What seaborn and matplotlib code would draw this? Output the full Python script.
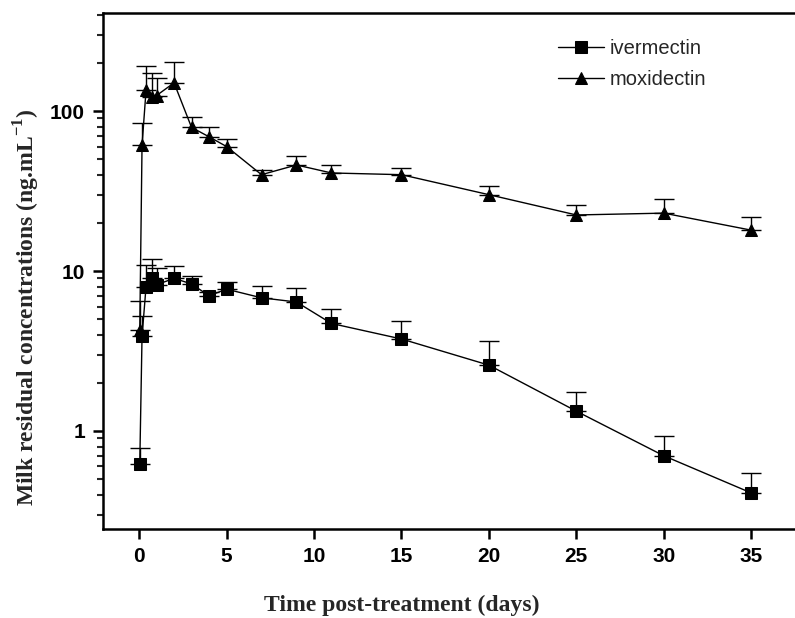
import numpy as np
import pandas as pd
import matplotlib
matplotlib.use("Agg")
import matplotlib.pyplot as plt
import seaborn as sns
from matplotlib.ticker import FixedLocator, LogLocator, NullFormatter, FuncFormatter

# sampling times (days)
days = [0.04, 0.17, 0.4, 0.75, 1, 2, 3, 4, 5, 7, 9, 11, 15, 20, 25, 30, 35]

# mean concentrations (ng/mL) and mean + SD (top of error bar)
ivermectin = [0.62, 3.9, 8.0, 9.0, 8.2, 9.0, 8.3, 7.0, 7.7, 6.8, 6.4, 4.7, 3.76, 2.58, 1.33, 0.70, 0.41]
ivermectin_hi = [0.78, 5.2, 10.9, 11.9, 10.4, 10.8, 9.3, 7.4, 8.5, 8.1, 7.8, 5.8, 4.9, 3.65, 1.75, 0.93, 0.55]

moxidectin = [4.3, 61, 135, 122, 125, 150, 79, 69, 60, 40, 46, 41, 40, 30, 22.4, 23, 18]
moxidectin_hi = [6.5, 84, 192, 174, 160, 202, 92, 80, 67, 43, 52, 46, 44, 34, 26, 28, 21.8]

df = pd.DataFrame({
    "day": days * 2,
    "conc": ivermectin + moxidectin,
    "drug": ["ivermectin"] * len(days) + ["moxidectin"] * len(days),
})

sns.set_style("ticks")
fig = plt.figure(figsize=(7.95, 6.18), dpi=100)
ax = fig.add_axes([0.1296, 0.144, 0.8704, 0.835])

# upper error bars only
for vals, hi in [(ivermectin, ivermectin_hi), (moxidectin, moxidectin_hi)]:
    up = np.array(hi) - np.array(vals)
    ax.errorbar(days, vals, yerr=[np.zeros(len(vals)), up], fmt="none",
                ecolor="black", elinewidth=1, capsize=7, capthick=1, zorder=2)

sns.lineplot(data=df, x="day", y="conc", hue="drug", style="drug",
             markers={"ivermectin": "s", "moxidectin": "^"},
             dashes=False, palette=["black", "black"], markersize=9,
             markeredgecolor="black", linewidth=1, ax=ax, zorder=3)

ax.set_yscale("log")
ax.set_xlim(-2.06, 37.5)
ax.set_ylim(0.244, 410)

ax.xaxis.set_major_locator(FixedLocator([0, 5, 10, 15, 20, 25, 30, 35]))
ax.yaxis.set_major_locator(FixedLocator([1, 10, 100]))
ax.yaxis.set_minor_locator(LogLocator(base=10, subs=np.arange(2, 10)))
ax.yaxis.set_minor_formatter(NullFormatter())
ax.yaxis.set_major_formatter(FuncFormatter(lambda v, p: f"{v:g}"))

for side in ["top", "bottom", "left"]:
    ax.spines[side].set_linewidth(1.8)
    ax.spines[side].set_color("black")
ax.spines["right"].set_visible(False)

ax.tick_params(axis="both", which="major", direction="out", length=7, width=1.8,
               colors="black", pad=6)
ax.tick_params(axis="y", which="minor", direction="out", length=4, width=1.5)
for lab in ax.get_xticklabels() + ax.get_yticklabels():
    lab.set_fontfamily("Liberation Sans")
    lab.set_fontweight("bold")
    lab.set_fontsize(15)

ax.set_xlabel("Time post-treatment (days)", fontfamily="Liberation Serif",
              fontweight="bold", fontsize=17)
ax.set_ylabel("Milk residual concentrations (ng.mL$^{\\mathregular{-1}}$)",
              fontfamily="Liberation Serif", fontweight="bold", fontsize=17)
ax.xaxis.set_label_coords(0.431, -0.128)
ax.yaxis.set_label_coords(-0.088, 0.43)

ax.legend(title=None, frameon=False, loc="upper left",
          bbox_to_anchor=(550 / 795, 1 - 31 / 618), bbox_transform=fig.transFigure,
          borderaxespad=0, handlelength=2.3, handletextpad=0.25, labelspacing=0.6,
          prop={"family": "Liberation Sans", "size": 14.5})

fig.savefig("out.png", dpi=100)
